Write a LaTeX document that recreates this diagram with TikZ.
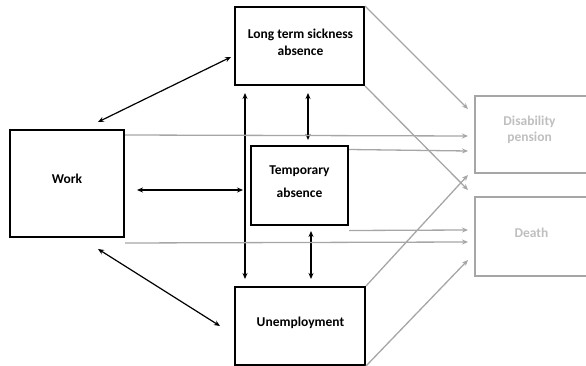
\documentclass[tikz,border=0pt]{standalone}
\usepackage{fontspec}
\setmainfont{Carlito}
\usetikzlibrary{calc,arrows.meta}
\definecolor{lineg}{RGB}{166,166,166}
\definecolor{textg}{RGB}{191,191,191}
\begin{document}
\begin{tikzpicture}[x=1pt,y=-1pt,
  box/.style={draw=black,line width=2pt,inner sep=0pt},
  gbox/.style={draw=lineg,line width=1.4pt,inner sep=0pt},
  lbl/.style={align=center,inner sep=0pt,font=\fontsize{13.5}{18}\selectfont\bfseries},
  glbl/.style={lbl,text=textg},
  bar/.style={{Stealth[length=6pt,width=5pt]}-{Stealth[length=6pt,width=5pt]},line width=1.2pt},
  garr/.style={-{Stealth[length=6pt,width=5pt]},draw=lineg,line width=1.3pt}
]
\useasboundingbox (0,0) rectangle (586,366);

\node[box,minimum width=114pt,minimum height=107pt] (work) at (67,183.5) {};
\node[box,minimum width=129pt,minimum height=78pt] (lts) at (299.5,46) {};
\node[box,minimum width=97pt,minimum height=78pt] (temp) at (299.5,185.5) {};
\node[box,minimum width=130pt,minimum height=78pt] (unemp) at (300,326) {};
\node[gbox,minimum width=120pt,minimum height=77pt] (dis) at (535,134.5) {};
\node[gbox,minimum width=120pt,minimum height=79pt] (death) at (535,236.5) {};

\node[lbl] (worktext) at (67,178.7) {Work};
\node[lbl,font=\fontsize{13.5}{17.5}\selectfont\bfseries] (ltstext) at (300.5,42.4) {Long term sickness\\absence};
\node[lbl,font=\fontsize{13.5}{22.5}\selectfont\bfseries] (temptext) at (299.5,181.5) {Temporary\\absence};
\node[lbl] (unemptext) at (300.5,323.3) {Unemployment};
\node[glbl,font=\fontsize{13.5}{15.5}\selectfont\bfseries] (distext) at (529.5,130) {Disability\\pension};
\node[glbl] (deathtext) at (531.5,232.6) {Death};

% black double arrows
\coordinate (w1) at (98,122);
\coordinate (l1) at (231,57);
\draw[bar] (w1) -- (l1);
\coordinate (w2) at (137,190);
\coordinate (t2) at (243,190);
\draw[bar] (w2) -- (t2);
\coordinate (w3) at (98,249);
\coordinate (u3) at (220,326);
\draw[bar] (w3) -- (u3);
\coordinate (v1) at (245,93);
\coordinate (v2) at (245,279);
\draw[bar] (v1) -- (v2);
\coordinate (lt1) at (308,93);
\coordinate (tl1) at (308,140);
\draw[bar] (lt1) -- (tl1);
\coordinate (tu1) at (311,231);
\coordinate (ut1) at (311,279);
\draw[bar] (tu1) -- (ut1);

% grey arrows
\coordinate (dA) at (468,136);
\coordinate (dB) at (468,151);
\coordinate (dC) at (468,109);
\coordinate (dD) at (468,175);
\coordinate (eA) at (468,190);
\coordinate (eB) at (468,230);
\coordinate (eC) at (468,242);
\coordinate (eD) at (468,260);
\draw[garr] ($(work.north east)+(0,6)$) -- (dA);
\draw[garr] ($(temp.north east)+(0,4)$) -- (dB);
\draw[garr] (lts.north east) -- (dC);
\draw[garr] (unemp.north east) -- (dD);
\draw[garr] (lts.south east) -- (eA);
\draw[garr] ($(temp.south east)+(0,5)$) -- (eB);
\draw[garr] ($(work.south east)+(0,5)$) -- (eC);
\draw[garr] (unemp.south east) -- (eD);
\end{tikzpicture}
\end{document}
